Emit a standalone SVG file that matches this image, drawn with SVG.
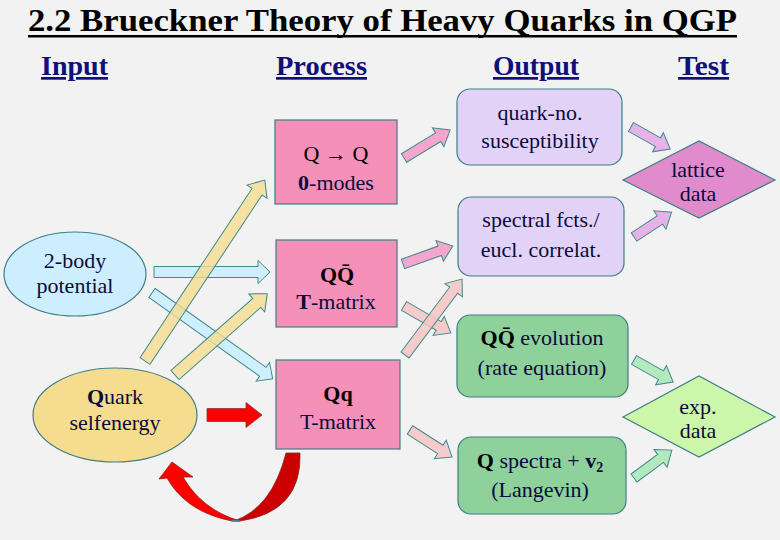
<svg xmlns="http://www.w3.org/2000/svg" width="780" height="540" viewBox="0 0 780 540">
<style>
.f{font-family:"Liberation Serif",Tinos,"Times New Roman",Times,"DejaVu Serif","Noto Serif",serif}
.t{font-family:"Liberation Serif",Tinos,"Times New Roman",Times,"DejaVu Serif","Noto Serif",serif;fill:#0a0a3c;font-size:22px;text-anchor:middle}
.b{font-weight:bold}
.hd{font-family:"Liberation Serif",Tinos,"Times New Roman",Times,"DejaVu Serif","Noto Serif",serif;font-weight:bold;font-size:27px;fill:#10107a;text-decoration:underline}
.box{stroke:#3f7f86;stroke-width:1.2}
.pk{fill:#f590b9}
.lv{fill:#e2d2f7}
.gr{fill:#8fd19b}
.ar{stroke:#3f8a8a;stroke-width:1}
.apk{fill:#f5a6cf}
.alp{fill:#f7c4c4;fill-opacity:0.85}
.alv{fill:#e6b3e8}
.agr{fill:#b2e9bf}
.abl{fill:#cceeff;fill-opacity:0.9}
.ayl{fill:#f5dc8e;fill-opacity:0.8}
</style>
<rect width="780" height="540" fill="#f2f2f2"/>
<text class="f" x="28" y="31" font-weight="bold" font-size="32" fill="#000" textLength="709" lengthAdjust="spacingAndGlyphs">2.2 Brueckner Theory of Heavy Quarks in QGP</text>
<rect x="28" y="35" width="709" height="2.5" fill="#000"/>
<text class="hd" x="41" y="75" textLength="67" lengthAdjust="spacingAndGlyphs">Input</text>
<text class="hd" x="276" y="75" textLength="91" lengthAdjust="spacingAndGlyphs">Process</text>
<text class="hd" x="493" y="75" textLength="86" lengthAdjust="spacingAndGlyphs">Output</text>
<text class="hd" x="678" y="75" textLength="51" lengthAdjust="spacingAndGlyphs">Test</text>

<g id="connectors">
<polygon class="ar abl" points="0,-5.5 104,-5.5 104,-11.5 116,0 104,11.5 104,5.5 0,5.5" transform="translate(154,272)"/>
<polygon class="ar abl" points="0,-5.5 136,-5.5 136,-11.5 148,0 136,11.5 136,5.5 0,5.5" transform="translate(152,293) rotate(35.4)"/>
<polygon class="ar ayl" points="0,-6 203,-6 203,-12 217,0 203,12 203,6 0,6" transform="translate(145,361) rotate(-56.5)"/>
<polygon class="ar ayl" points="0,-6 109,-6 109,-12 123,0 109,12 109,6 0,6" transform="translate(175,375) rotate(-41.4)"/>
<polygon points="0,-6.5 39,-6.5 39,-12.5 55,0 39,12.5 39,6.5 0,6.5" fill="#ff0000" stroke="#993333" stroke-width="0.8" transform="translate(207,415)"/>
<path d="M286,453 L300,453 Q302,512 240,521 L234,521 Q272,508 286,453 Z" fill="#cc0000" stroke="#8b2222" stroke-width="0.8"/>
<path d="M240,521 L232,521 Q186,512 167,478 L159,479 L172,462 L193,477 L183,477 Q202,510 240,521 Z" fill="#ff0000" stroke="#8b2222" stroke-width="0.8"/>
<line x1="232" y1="521" x2="240" y2="521" stroke="#2aa0a0" stroke-width="1.5"/>
<polygon class="ar apk" points="0,-5 40,-5 40,-11 54,0 40,11 40,5 0,5" transform="translate(404,158) rotate(-31.3)"/>
<polygon class="ar apk" points="0,-5 39,-5 39,-11 53,0 39,11 39,5 0,5" transform="translate(403,264) rotate(-19.8)"/>
<polygon class="ar alp" points="0,-5 40,-5 40,-11 54,0 40,11 40,5 0,5" transform="translate(404,306) rotate(29.9)"/>
<polygon class="ar alp" points="0,-5 81,-5 81,-11 95,0 81,11 81,5 0,5" transform="translate(405,355) rotate(-53.1)"/>
<polygon class="ar alp" points="0,-5 36,-5 36,-11 50,0 36,11 36,5 0,5" transform="translate(410,430) rotate(32.7)"/>
<polygon class="ar alv" points="0,-5 31,-5 31,-11 45,0 31,11 31,5 0,5" transform="translate(631,127) rotate(29.4)"/>
<polygon class="ar alv" points="0,-5 31,-5 31,-11 45,0 31,11 31,5 0,5" transform="translate(634,237) rotate(-33.3)"/>
<polygon class="ar agr" points="0,-5 31,-5 31,-11 45,0 31,11 31,5 0,5" transform="translate(634,360) rotate(29.4)"/>
<polygon class="ar agr" points="0,-5 33,-5 33,-11 47,0 33,11 33,5 0,5" transform="translate(634,478) rotate(-36.4)"/>
</g>

<g id="two-body">
<ellipse cx="75" cy="274" rx="71" ry="42" fill="#cdeeff" class="box"/>
<text class="t" x="75" y="268">2-body</text>
<text class="t" x="75" y="293">potential</text>
</g>
<g id="selfenergy">
<ellipse cx="115" cy="415" rx="82" ry="47" fill="#f5dc8f" class="box"/>
<text class="t" x="115" y="404"><tspan class="b">Q</tspan>uark</text>
<text class="t" x="115" y="430">selfenergy</text>
</g>
<g id="q-zero-modes">
<rect x="275" y="120" width="122" height="84" class="box pk"/>
<text class="t" x="336" y="161" style="fill:#000">Q → Q</text>
<text class="t" x="336" y="190"><tspan class="b">0</tspan>-modes</text>
</g>
<g id="qqbar-tmatrix">
<rect x="276" y="240" width="121" height="87" class="box pk"/>
<text class="t b" x="337" y="282" style="fill:#000">QQ̄</text>
<text class="t" x="336" y="309"><tspan class="b">T</tspan>-matrix</text>
</g>
<g id="qq-tmatrix">
<rect x="276" y="360" width="124" height="89" class="box pk"/>
<text class="t b" x="338" y="401" style="fill:#000">Qq</text>
<text class="t" x="338" y="429">T-matrix</text>
</g>
<g id="susceptibility">
<rect x="457" y="89" width="165" height="76" rx="13" class="box lv"/>
<text class="t" x="540" y="120">quark-no.</text>
<text class="t" x="540" y="148">susceptibility</text>
</g>
<g id="spectral">
<rect x="458" y="197" width="166" height="79" rx="13" class="box lv"/>
<text class="t" x="541" y="227">spectral fcts./</text>
<text class="t" x="541" y="257">eucl. correlat.</text>
</g>
<g id="qqbar-evolution">
<rect x="457" y="315" width="171" height="82" rx="13" class="box gr"/>
<text class="t" x="542" y="345"><tspan class="b" style="fill:#000">QQ̄</tspan> evolution</text>
<text class="t" x="542" y="375">(rate equation)</text>
</g>
<g id="q-spectra">
<rect x="458" y="437" width="168" height="77" rx="13" class="box gr"/>
<text class="t" x="540" y="468"><tspan class="b" style="fill:#000">Q</tspan> spectra + <tspan class="b">v</tspan><tspan class="b" font-size="14" dy="4">2</tspan></text>
<text class="t" x="540" y="497">(Langevin)</text>
</g>
<g id="lattice-data">
<polygon points="623,180 699,141 775,180 699,218" fill="#e08bcb" class="box"/>
<text class="t" x="698" y="177">lattice</text>
<text class="t" x="698" y="201">data</text>
</g>
<g id="exp-data">
<polygon points="623,417 699,376 775,417 699,457" fill="#ccf7aa" class="box"/>
<text class="t" x="698" y="414">exp.</text>
<text class="t" x="698" y="438">data</text>
</g>
</svg>
